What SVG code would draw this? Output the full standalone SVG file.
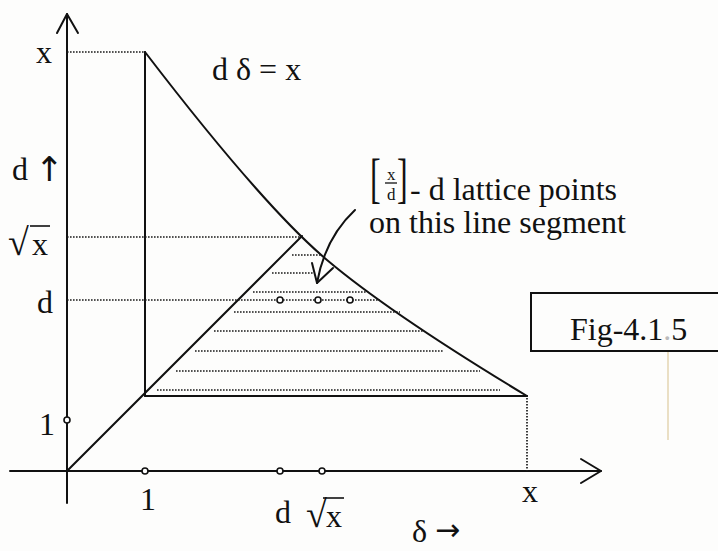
<svg xmlns="http://www.w3.org/2000/svg" width="718" height="551" viewBox="0 0 718 551">
<style>
  .ln{stroke:#111;stroke-width:2;fill:none;stroke-linecap:round;stroke-linejoin:round}
  .dot{stroke:#1a1a1a;stroke-width:1.7;fill:none;stroke-dasharray:1.6 1.4}
  .pt{stroke:#111;stroke-width:1.6;fill:#fff}
  .t{font-family:"Liberation Serif","Times New Roman",serif;font-size:32px;fill:#111}
  .s{font-family:"Liberation Serif","Times New Roman",serif;font-size:17px;fill:#111}
  .a{font-family:"DejaVu Sans",sans-serif;font-size:34px;fill:#111}
  .bar{stroke:#111;stroke-width:1.6}
</style>
<rect x="0" y="0" width="718" height="551" fill="#fdfdfc"/>
<line x1="668" y1="352" x2="668" y2="440" stroke="#eadfc4" stroke-width="2"/>

<g id="axes">
  <line class="ln" x1="67" y1="14" x2="67" y2="503"/>
  <polyline class="ln" points="57,33 67,14 78,33"/>
  <line class="ln" x1="10" y1="471" x2="601" y2="471"/>
  <polyline class="ln" points="581,459 601,471 581,483"/>
</g>

<g id="region">
  <line class="ln" x1="145" y1="52" x2="145" y2="396"/>
  <path class="ln" d="M145,52 Q263,206 327,260 Q391,314 527,396"/>
  <line class="ln" x1="67" y1="471" x2="302" y2="236"/>
  <line class="ln" x1="145" y1="396" x2="527" y2="396"/>
</g>

<g id="guides">
  <line class="dot" x1="67" y1="52" x2="145" y2="52"/>
  <line class="dot" x1="67" y1="237" x2="300" y2="237"/>
  <line class="dot" x1="67" y1="300" x2="380" y2="300"/>
  <line class="dot" x1="527" y1="398" x2="527" y2="471"/>
</g>

<g id="hatching">
  <line class="dot" x1="292" y1="255" x2="322" y2="255"/>
  <line class="dot" x1="272" y1="273" x2="313" y2="273"/>
  <line class="dot" x1="253" y1="292" x2="367" y2="292"/>
  <line class="dot" x1="234" y1="312" x2="400" y2="312"/>
  <line class="dot" x1="214" y1="331" x2="423" y2="331"/>
  <line class="dot" x1="195" y1="351" x2="443" y2="351"/>
  <line class="dot" x1="176" y1="371" x2="480" y2="371"/>
  <line class="dot" x1="157" y1="390" x2="500" y2="390"/>
</g>

<g id="points">
  <circle class="pt" cx="280" cy="300" r="3"/>
  <circle class="pt" cx="318" cy="300" r="3"/>
  <circle class="pt" cx="350" cy="300" r="3"/>
  <circle class="pt" cx="145" cy="471" r="3"/>
  <circle class="pt" cx="280" cy="471" r="3"/>
  <circle class="pt" cx="322" cy="471" r="3"/>
  <circle class="pt" cx="67" cy="420" r="3"/>
</g>

<g id="pointer">
  <path class="ln" d="M355,210 Q325,238 317,283" stroke-width="1.8"/>
  <polyline class="ln" points="312,263 317,283 333,268" stroke-width="1.8"/>
</g>

<g id="axis-labels">
  <text class="t" x="36" y="63">x</text>
  <text class="t" x="12" y="180">d</text>
  <text class="a" x="35" y="181">↑</text>
  <text class="t" x="8" y="255" style="font-size:38px">√</text>
  <text class="t" x="32" y="255">x</text>
  <line class="bar" x1="30" y1="226" x2="50" y2="226"/>
  <text class="t" x="37" y="313">d</text>
  <text class="t" x="39" y="435">1</text>
  <text class="t" x="140" y="510">1</text>
  <text class="t" x="275" y="523">d</text>
  <text class="t" x="306" y="527" style="font-size:38px">√</text>
  <text class="t" x="326" y="527">x</text>
  <line class="bar" x1="323" y1="498" x2="344" y2="498"/>
  <text class="t" x="412" y="542">δ</text>
  <text class="a" x="435" y="540" style="font-size:30px">→</text>
  <text class="t" x="522" y="502">x</text>
</g>

<g id="curve-label">
  <text class="t" x="212" y="80">d δ = x</text>
</g>

<g id="lattice-label">
  <text class="t" x="370" y="200" transform="translate(0,-143) scale(1,1.7)">[</text>
  <text class="s" x="387" y="180">x</text>
  <line x1="385" y1="183" x2="397" y2="183" stroke="#111" stroke-width="1.3"/>
  <text class="s" x="387" y="200">d</text>
  <text class="t" x="397" y="200" transform="translate(0,-143) scale(1,1.7)">]</text>
  <text class="t" x="410" y="200">- d lattice points</text>
  <text class="t" x="369" y="233">on this line segment</text>
</g>

<g id="fig-box">
  <rect x="531" y="293" width="200" height="58" fill="none" stroke="#111" stroke-width="2"/>
  <text class="t" x="570" y="340">Fig-4.1<tspan fill="#bbb">.</tspan>5</text>
</g>
</svg>
